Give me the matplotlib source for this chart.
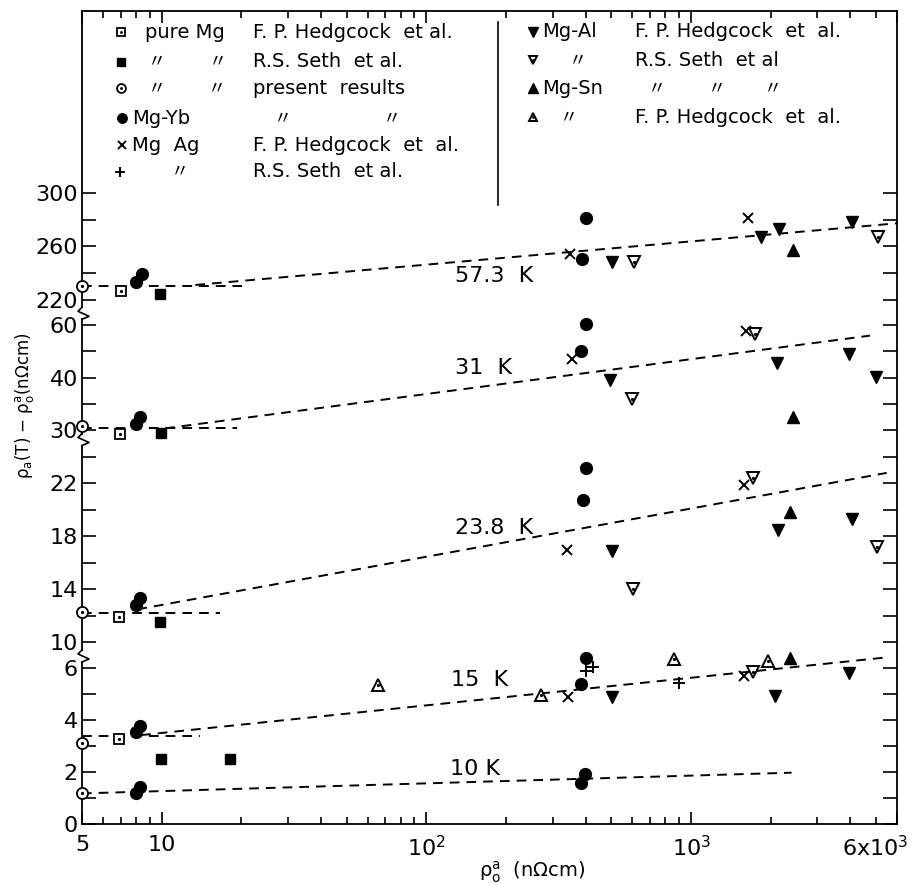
import numpy as np
import matplotlib
matplotlib.use("Agg")
import matplotlib.pyplot as plt
from matplotlib.transforms import blended_transform_factory, ScaledTranslation

plt.rcParams['font.family'] = ['DejaVu Sans']

# ---------------- data ----------------
# pure Mg, F. P. Hedgcock et al.
pmg_fph_x = [7.0, 6.95, 6.9, 6.9]
pmg_fph_y = [227.0, 29.2, 11.87, 3.27]
# pure Mg, R. S. Seth et al.
pmg_rss_x = [9.86, 9.9, 9.86, 9.9, 18.1]
pmg_rss_y = [224.5, 29.4, 11.54, 2.52, 2.50]
# pure Mg, present results
pmg_pr_x = [5, 5, 5, 5, 5]
pmg_pr_y = [230.5, 30.8, 12.25, 3.14, 1.21]
# Mg-Yb, present results
mgyb_x = [8.0, 8.45, 388, 400, 8.0, 8.3, 384, 400, 8.0, 8.28, 392, 400,
          8.0, 8.3, 384, 400, 8.0, 8.3, 384, 397]
mgyb_y = [233.2, 239.4, 250.7, 281.1, 31.15, 32.4, 50.0, 60.6, 12.8, 13.35, 20.75, 23.2,
          3.54, 3.79, 5.40, 6.39, 1.18, 1.42, 1.59, 1.93]
# Mg Ag, F. P. Hedgcock et al.
mgag_fph_x = [349, 1636, 354, 1607, 339, 1585, 344, 1585]
mgag_fph_y = [254.4, 281.1, 47.1, 57.9, 16.97, 21.87, 4.89, 5.71]
# Mg Ag, R. S. Seth et al.
mgag_rss_x = [400, 425, 900]
mgag_rss_y = [5.91, 6.07, 5.43]
# Mg-Al, F. P. Hedgcock et al.
mgal_fph_x = [504, 1832, 2148, 4040, 496, 2104, 3950, 5000, 501, 2135, 4040, 501, 2074, 3950]
mgal_fph_y = [248.6, 266.9, 273.0, 278.1, 39.6, 45.5, 49.1, 40.4, 16.9, 18.5, 19.29, 4.89, 4.94, 5.81]
# Mg-Al, R. S. Seth et al.
mgal_rss_x = [611, 5100, 600, 1752, 605, 1717, 5053, 1709]
mgal_rss_y = [248.2, 267.3, 35.95, 56.5, 14.0, 22.4, 17.2, 5.88]
# Mg-Sn, R. S. Seth et al.
mgsn_rss_x = [2433, 2433, 2365, 2365]
mgsn_rss_y = [257.4, 32.4, 19.86, 6.65]
# Mg-Sn, F. P. Hedgcock et al.
mgsn_fph_x = [65.8, 270, 864, 1959]
mgsn_fph_y = [5.36, 4.98, 6.35, 6.30]

# fitted dashed lines per temperature
temp_labels = ['57.3  K', '31  K', '23.8  K', '15  K', '10 K']
temp_label_x = [128, 128, 128, 124, 123]
temp_label_y = [237.9, 43.7, 18.63, 5.56, 2.12]
flat_x_end = [20.1, 19.2, 16.6, 13.9]
flat_y = [230.5, 30.3, 12.2, 3.40]
slope_x = [[13.4, 6000], [10.3, 4740], [8.1, 5484], [8.36, 5405], [5, 2398]]
slope_y = [[231.2, 277.3], [30.3, 56.0], [12.47, 22.8], [3.43, 6.74], [1.18, 1.98]]

# axis ticks
x_major = [5, 10, 100, 1000, 6000]
x_major_labels = ['5', '10', r'$\mathregular{10^2}$', r'$\mathregular{10^3}$', r'$\mathregular{6x10^3}$']
x_minor = [6, 7, 8, 9, 20, 30, 40, 50, 60, 70, 80, 90, 200, 300, 400, 500, 600, 700, 800, 900,
           2000, 3000, 4000, 5000]
y_major = [0, 2, 4, 6, 10, 14, 18, 22, 30, 40, 60, 220, 260, 300]
y_major_labels = [str(v) for v in y_major]
y_minor = [1, 3, 5, 12, 16, 20, 24, 35, 50, 240, 280]

# broken (piecewise linear) y axis: value -> position
y_knot_vals = [0, 6, 6.4, 9.1, 10, 22, 25.0, 29.0, 30, 40, 60, 63.5, 212, 220, 300, 440]
y_knot_pos = [0, 155.5, 165.9, 170.1, 182, 340.5, 380.1, 388.8, 394, 446.3, 498.8, 508.0,
              513.3, 524, 631, 818.25]
y_gaps = [(6.4, 9.1), (25.0, 29.0), (63.5, 212)]


def fwd(v):
    return np.interp(np.asarray(v, dtype=float), y_knot_vals, y_knot_pos)


def inv(p):
    return np.interp(np.asarray(p, dtype=float), y_knot_pos, y_knot_vals)


STY = {
    'pmg_fph': dict(marker='s', ms=6.5, mfc='white', mec='k', mew=1.3),
    'pmg_rss': dict(marker='s', ms=7, mfc='k', mec='k', mew=1),
    'pmg_pr': dict(marker='o', ms=8, mfc='white', mec='k', mew=1.3),
    'mgyb': dict(marker='o', ms=8.5, mfc='k', mec='k'),
    'mgag_fph': dict(marker='x', ms=7, mec='k', mew=1.4),
    'mgag_rss': dict(marker='+', ms=9, mec='k', mew=1.4),
    'mgal_fph': dict(marker='v', ms=8.5, mfc='k', mec='k'),
    'mgal_rss': dict(marker='v', ms=8, mfc='white', mec='k', mew=1.4),
    'mgsn_rss': dict(marker='^', ms=8.5, mfc='k', mec='k'),
    'mgsn_fph': dict(marker='^', ms=8, mfc='white', mec='k', mew=1.4),
}
DOT = {'pmg_fph', 'pmg_pr', 'mgal_rss', 'mgsn_fph'}

fig = plt.figure(figsize=(9.15, 8.84), dpi=100)
ax = fig.add_axes([82 / 915, 1 - 824 / 884, 815 / 915, 813 / 884])
ax.set_xscale('log')
ax.set_yscale('function', functions=(fwd, inv))
ax.set_xlim(5, 6000)
ax.set_ylim(0, 436)

for sp in ax.spines.values():
    sp.set_linewidth(1.3)

# dashed fit lines
dash = (0, (5, 3.6))
for xe, yf in zip(flat_x_end, flat_y):
    ax.plot([5, xe], [yf, yf], color='k', lw=1.4, ls=dash, zorder=2)
for xs, ys in zip(slope_x, slope_y):
    ax.plot(xs, ys, color='k', lw=1.4, ls=dash, zorder=2)
for t, tx, ty in zip(temp_labels, temp_label_x, temp_label_y):
    ax.text(tx, ty, t, fontsize=16, ha='left', va='center', zorder=3)


def draw(key, x, y, scale=1.0, **kw):
    st = dict(STY[key])
    st['ms'] = st['ms'] * scale
    ax.plot(x, y, ls='none', clip_on=False, zorder=5, **st, **kw)
    if key in DOT:
        ax.plot(x, y, ls='none', marker='.', ms=2.6 * scale, color='k', clip_on=False,
                zorder=6, **kw)


series = [
    ('pmg_fph', pmg_fph_x, pmg_fph_y), ('pmg_rss', pmg_rss_x, pmg_rss_y),
    ('pmg_pr', pmg_pr_x, pmg_pr_y), ('mgyb', mgyb_x, mgyb_y),
    ('mgag_fph', mgag_fph_x, mgag_fph_y), ('mgag_rss', mgag_rss_x, mgag_rss_y),
    ('mgal_fph', mgal_fph_x, mgal_fph_y), ('mgal_rss', mgal_rss_x, mgal_rss_y),
    ('mgsn_rss', mgsn_rss_x, mgsn_rss_y), ('mgsn_fph', mgsn_fph_x, mgsn_fph_y),
]
for key, xs, ys in series:
    draw(key, xs, ys)

# ticks
ax.set_xticks(x_major, x_major_labels)
ax.set_xticks(x_minor, minor=True)
ax.xaxis.set_minor_formatter(plt.NullFormatter())
ax.set_yticks(y_major, y_major_labels)
ax.set_yticks(y_minor, minor=True)
ax.yaxis.set_minor_formatter(plt.NullFormatter())
ax.tick_params(axis='both', which='both', direction='in', top=True, right=True,
               labelsize=16, width=1.2)
ax.tick_params(axis='y', which='both', length=10, pad=3)
ax.tick_params(axis='x', which='major', length=8.5, pad=8)
ax.tick_params(axis='x', which='minor', length=5)
last = ax.get_xticklabels()[-1]
last.set_transform(last.get_transform() + ScaledTranslation(-0.22, 0, fig.dpi_scale_trans))

ax.set_xlabel(r'$\mathregular{\rho^a_o}$  (nΩcm)', fontsize=14)
ax.xaxis.set_label_coords(0.552, -0.044)
ax.set_ylabel(r'$\mathregular{\rho_a}$(T) $-$ $\mathregular{\rho^a_o}$(nΩcm)', fontsize=12)
ax.yaxis.set_label_coords(-0.056, 0.514)

# axis break marks on the left spine
bt = blended_transform_factory(ax.transAxes, ax.transData)
pxx = 1 / 815.0
for lo, hi in y_gaps:
    c = 0.5 * (fwd(lo) + fwd(hi))
    ax.plot([0, 0], [inv(c - 5), inv(c + 5)], color='white', lw=3, transform=bt,
            clip_on=False, zorder=7, solid_capstyle='butt')
    zx = [0, -4 * pxx, 7 * pxx, 0]
    zy = [inv(c + 6), inv(c + 2), inv(c - 3), inv(c - 6)]
    ax.plot(zx, zy, color='k', lw=1.2, transform=bt, clip_on=False, zorder=8)

# legend (drawn by hand, like the original)
def AX(px):
    return (px - 82) / 815.0


def AY(py):
    return (824 - py) / 813.0


leg_markers = [
    ('pmg_fph', 120.5, 32.3), ('pmg_rss', 120.5, 61.7), ('pmg_pr', 120.5, 88.3),
    ('mgyb', 121.5, 118.3), ('mgag_fph', 121.5, 145), ('mgag_rss', 119.5, 171.7),
    ('mgal_fph', 532.7, 31.7), ('mgal_rss', 532.7, 60), ('mgsn_rss', 532.7, 88.3),
    ('mgsn_fph', 532.7, 117.3),
]
for key, px, py in leg_markers:
    draw(key, [AX(px)], [AY(py)], scale=0.8, transform=ax.transAxes)

leg_texts = [
    ('pure Mg', 145, 32.3), ('F. P. Hedgcock  et al.', 252.7, 32.3),
    ('R.S. Seth  et al.', 252.7, 61.7), ('present  results', 252.7, 88.3),
    ('Mg-Yb', 131.7, 118.3), ('Mg  Ag', 131.7, 145), ('F. P. Hedgcock  et  al.', 252.7, 145),
    ('R.S. Seth  et al.', 252.7, 171.7),
    ('Mg-Al', 541.7, 31.7), ('F. P. Hedgcock  et  al.', 635, 31.7),
    ('R.S. Seth  et al', 635, 60), ('Mg-Sn', 541.7, 88.3),
    ('F. P. Hedgcock  et  al.', 635, 117.3),
]
for s, px, py in leg_texts:
    ax.text(AX(px), AY(py), s, transform=ax.transAxes, fontsize=14, ha='left', va='center')

dittos = [(156.7, 61.7), (218, 61.7), (157.3, 88.3), (216.7, 88.3), (283, 118.3),
          (391.7, 118.3), (180, 171.7), (578, 60), (656.7, 88.3), (716.7, 88.3),
          (773.3, 88.3), (569.3, 117.3)]
for px, py in dittos:
    ax.text(AX(px), AY(py), '〃', transform=ax.transAxes, fontsize=13, ha='center',
            va='center', family=['Noto Sans CJK SC', 'DejaVu Sans'])

ax.plot([AX(498), AX(498)], [AY(22), AY(205)], color='k', lw=1.2, transform=ax.transAxes)

fig.savefig('out.png', dpi=100, facecolor='white')
